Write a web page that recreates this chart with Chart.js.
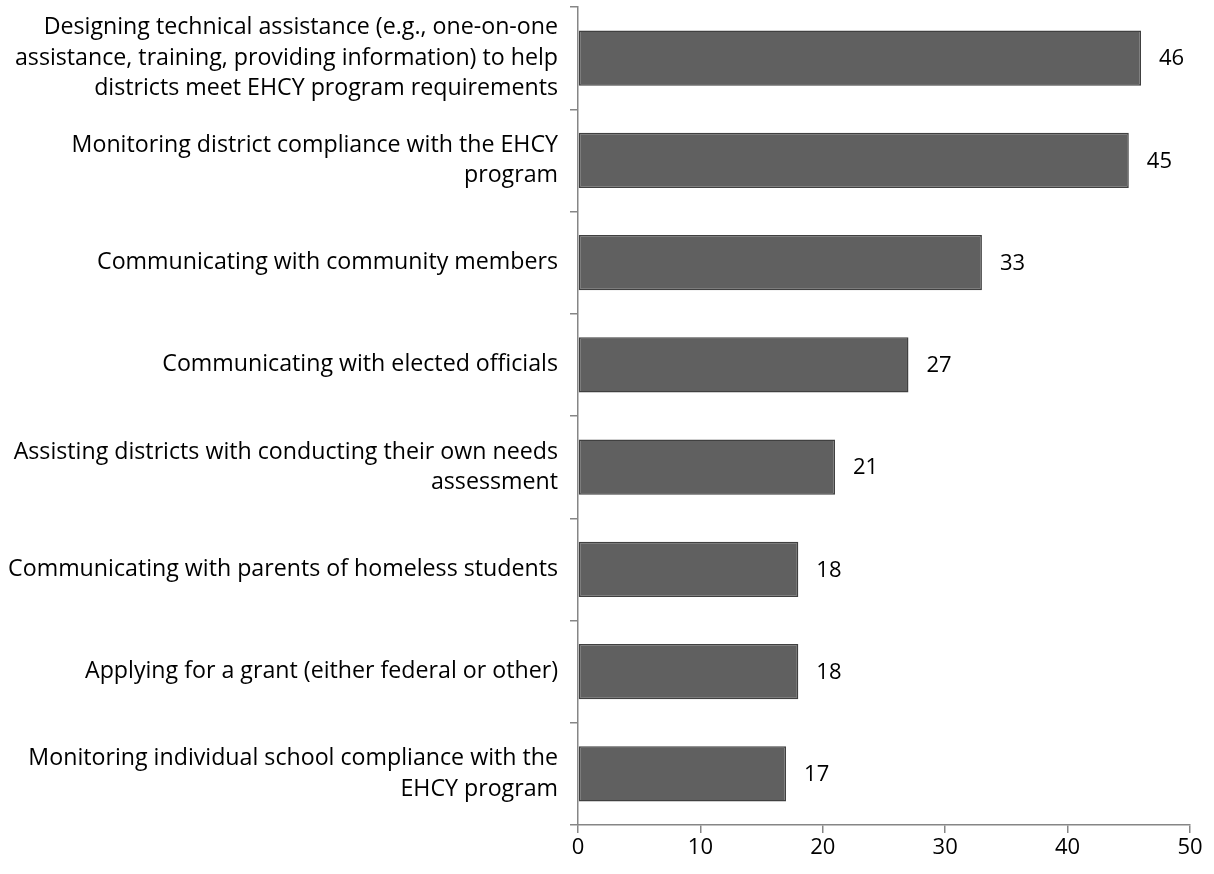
<!DOCTYPE html>
<html>
<head>
<meta charset="utf-8">
<script src="https://cdn.jsdelivr.net/npm/chart.js@4.4.1/dist/chart.umd.min.js"></script>
<style>
  html, body { margin: 0; padding: 0; background: #fff; }
  #wrap { width: 1214px; height: 874px; }
</style>
</head>
<body>
<div id="wrap"><canvas id="myChart" width="1214" height="874"></canvas></div>
<script>
// categories, one array per label (lines as they wrap in the original)
const categories = [
  ["Designing technical assistance (e.g., one-on-one", "assistance, training, providing information) to help", "districts meet EHCY program requirements"],
  ["Monitoring district compliance with the EHCY", "program"],
  ["Communicating with community members"],
  ["Communicating with elected officials"],
  ["Assisting districts with conducting their own needs", "assessment"],
  ["Communicating with parents of homeless students"],
  ["Applying for a grant (either federal or other)"],
  ["Monitoring individual school compliance with the", "EHCY program"],
];

const values = [46, 45, 33, 27, 21, 18, 18, 17];

const xTicks = [0, 10, 20, 30, 40, 50];

const fontFamily = "'Open Sans', sans-serif";
const axisColor = "#868686";

// draw the value next to the end of each bar
const valueLabels = {
  id: "valueLabels",
  afterDatasetsDraw(chart) {
    const ctx = chart.ctx;
    const meta = chart.getDatasetMeta(0);
    ctx.save();
    ctx.font = "22px " + fontFamily;
    ctx.fillStyle = "#000";
    ctx.textAlign = "left";
    ctx.textBaseline = "middle";
    meta.data.forEach((bar, i) => {
      ctx.fillText(String(values[i]), bar.x + 18, bar.y + 1);
    });
    ctx.restore();
  },
};

const chart = new Chart(document.getElementById("myChart"), {
  type: "bar",
  data: {
    labels: categories,
    datasets: [
      {
        data: values,
        backgroundColor: "#606060",
        borderColor: "#404040",
        borderWidth: 1.5,
        borderSkipped: false,
        categoryPercentage: 0.54,
        barPercentage: 1,
      },
    ],
  },
  options: {
    indexAxis: "y",
    responsive: false,
    animation: false,
    layout: { padding: { top: 7, right: 24, left: 0, bottom: 0 } },
    plugins: {
      legend: { display: false },
      tooltip: { enabled: false },
    },
    scales: {
      y: {
        offset: true,
        grid: {
          offset: true,
          drawOnChartArea: false,
          drawTicks: true,
          tickLength: 8,
          color: axisColor,
          lineWidth: 1.5,
        },
        border: { display: true, color: axisColor, width: 1.5 },
        ticks: {
          color: "#000",
          padding: 12,
          font: { family: fontFamily, size: 23.2, lineHeight: 1.31 },
          autoSkip: false,
        },
        afterFit: (scale) => {
          scale.width = 578;
          scale.paddingTop = 0;
          scale.paddingBottom = 0;
        },
      },
      x: {
        min: 0,
        max: 50,
        afterBuildTicks: (scale) => {
          scale.ticks = xTicks.map((v) => ({ value: v }));
        },
        grid: {
          drawOnChartArea: false,
          drawTicks: true,
          tickLength: 8,
          color: axisColor,
          lineWidth: 1.5,
        },
        border: { display: true, color: axisColor, width: 1.5 },
        ticks: {
          color: "#000",
          padding: 2,
          maxRotation: 0,
          font: { family: fontFamily, size: 22 },
        },
        afterFit: (scale) => {
          scale.height = 49;
          scale.paddingLeft = 0;
          scale.paddingRight = 0;
        },
      },
    },
  },
  plugins: [valueLabels],
});
</script>
</body>
</html>
